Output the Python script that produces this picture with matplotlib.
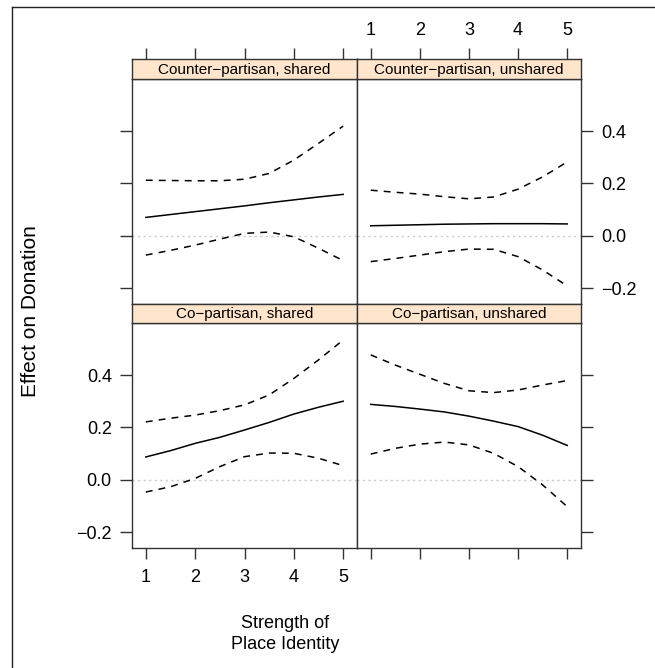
import matplotlib
matplotlib.use("Agg")
import matplotlib.pyplot as plt
from matplotlib.lines import Line2D

plt.rcParams['font.family'] = ['Liberation Sans', 'DejaVu Sans']

# strength of place identity
x = [1, 1.5, 2, 2.5, 3, 3.5, 4, 4.5, 5]

titles = ["Counter\u2212partisan, shared", "Counter\u2212partisan, unshared",
          "Co\u2212partisan, shared", "Co\u2212partisan, unshared"]

cps_fit = [0.070, 0.081, 0.092, 0.103, 0.114, 0.126, 0.137, 0.148, 0.158]
cps_up = [0.212, 0.211, 0.210, 0.210, 0.216, 0.238, 0.289, 0.353, 0.419]
cps_lo = [-0.074, -0.056, -0.036, -0.013, 0.009, 0.014, -0.004, -0.048, -0.095]

cpu_fit = [0.038, 0.040, 0.042, 0.044, 0.045, 0.046, 0.046, 0.046, 0.045]
cpu_up = [0.174, 0.166, 0.159, 0.149, 0.141, 0.148, 0.178, 0.225, 0.282]
cpu_lo = [-0.099, -0.087, -0.074, -0.061, -0.051, -0.052, -0.080, -0.131, -0.192]

cos_fit = [0.087, 0.111, 0.139, 0.162, 0.190, 0.219, 0.251, 0.277, 0.300]
cos_up = [0.221, 0.235, 0.247, 0.264, 0.286, 0.324, 0.387, 0.458, 0.534]
cos_lo = [-0.047, -0.027, 0.005, 0.050, 0.088, 0.102, 0.101, 0.082, 0.054]

cou_fit = [0.288, 0.280, 0.270, 0.259, 0.243, 0.224, 0.203, 0.170, 0.131]
cou_up = [0.477, 0.438, 0.403, 0.368, 0.340, 0.333, 0.343, 0.362, 0.379]
cou_lo = [0.098, 0.120, 0.136, 0.144, 0.133, 0.101, 0.050, -0.020, -0.103]

fits = [cps_fit, cpu_fit, cos_fit, cou_fit]
ups = [cps_up, cpu_up, cos_up, cou_up]
los = [cps_lo, cpu_lo, cos_lo, cou_lo]

xticks = [1, 2, 3, 4, 5]
yticks = [-0.2, 0.0, 0.2, 0.4]
ylabels = ["\u22120.2", "0.0", "0.2", "0.4"]

W, H = 655, 668
fig = plt.figure(figsize=(W / 100, H / 100), dpi=100)

# pixel boxes: panel columns (left, right), rows (top, bottom, strip top)
cols = [(132, 357), (357, 581)]
rows = [(79, 304, 59), (323, 548, 304)]

edge = "#333333"
for i in range(4):
    r, c = divmod(i, 2)
    l, rt = cols[c]
    t, b, st = rows[r]
    ax = fig.add_axes([l / W, 1 - b / H, (rt - l) / W, (b - t) / H])
    ax.set_xlim(0.72, 5.28)
    ax.set_ylim(-0.261, 0.599)
    ax.axhline(0, color="#c8c8c8", lw=1, ls=(0, (1.5, 2.5)))
    ax.plot(x, fits[i], color="black", lw=1.1)
    ax.plot(x, ups[i], color="black", lw=1.1, ls=(0, (4.5, 4)))
    ax.plot(x, los[i], color="black", lw=1.1, ls=(0, (4.5, 4)))
    for s in ax.spines.values():
        s.set_color(edge)
        s.set_linewidth(1.0)
    ax.set_xticks(xticks)
    ax.set_yticks(yticks)
    ax.set_yticklabels(ylabels)
    ax.tick_params(axis="x", direction="out", length=8, width=1, color=edge,
                   labelsize=13, pad=7, top=False, bottom=(r == 1),
                   labeltop=False, labelbottom=(r == 1 and c == 0))
    ax.tick_params(axis="y", direction="out", length=8.5, width=1, color=edge,
                   labelsize=13, pad=6, left=(c == 0), right=(c == 1),
                   labelleft=(r == 1 and c == 0), labelright=(r == 0 and c == 1))

    # strip with the panel title
    sx = fig.add_axes([l / W, 1 - t / H, (rt - l) / W, (t - st) / H])
    sx.set_facecolor("#ffe5cc")
    sx.set_xlim(0.72, 5.28)
    sx.set_yticks([])
    if r == 0:
        sx.set_xticks(xticks)
        sx.tick_params(axis="x", direction="out", length=8, width=1, color=edge,
                       labelsize=13, pad=6.5, top=True, bottom=False,
                       labeltop=(c == 1), labelbottom=False)
    else:
        sx.set_xticks([])
    for s in sx.spines.values():
        s.set_color(edge)
        s.set_linewidth(1.0)
    sx.text(0.5, 0.47, titles[i], ha="center", va="center", fontsize=11,
            transform=sx.transAxes)

fig.text(31 / W, 1 - 311 / H, "Effect on Donation", rotation=90,
         ha="center", va="center", fontsize=15)
fig.text(285 / W, 1 - 634 / H, "Strength of\nPlace Identity",
         ha="center", va="center", fontsize=13, linespacing=1.3)

# outer frame (left and top edges)
fig.add_artist(Line2D([12 / W, 12 / W], [0, 1 - 7 / H], color="#222222", lw=1,
                      transform=fig.transFigure))
fig.add_artist(Line2D([12 / W, 1], [1 - 7 / H, 1 - 7 / H], color="#222222", lw=1,
                      transform=fig.transFigure))

fig.savefig("out.png", dpi=100)
